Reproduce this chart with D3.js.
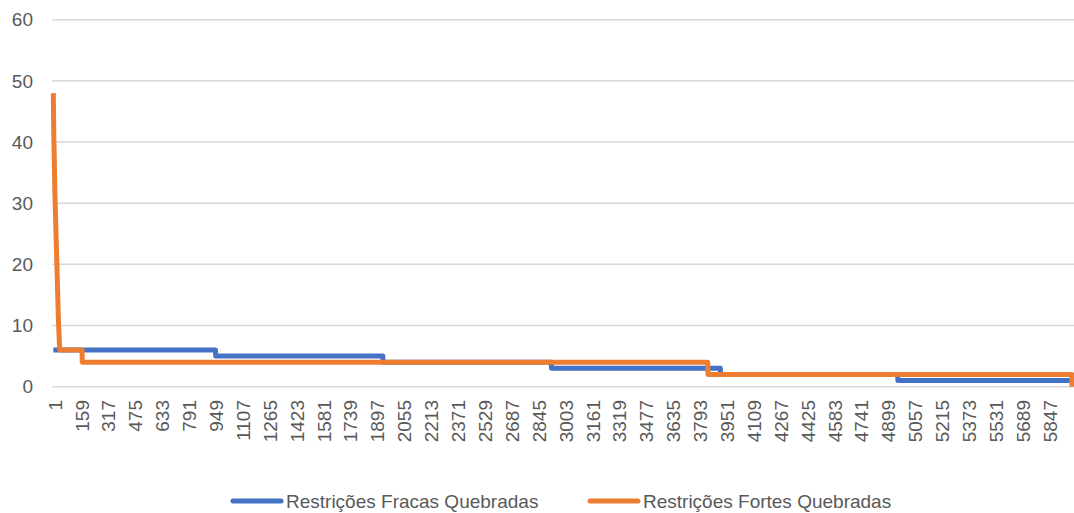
<!DOCTYPE html>
<html>
<head>
<meta charset="utf-8">
<script src="https://cdn.jsdelivr.net/npm/d3@7"></script>
<style>
  body { margin: 0; background: #fff; }
  svg text { font-family: "Liberation Sans", Arial, sans-serif; fill: #595959; }
</style>
</head>
<body>
<svg id="chart" width="1074" height="513"></svg>
<script>
// iteration index where the value changes, and the value there
var fracasIdx = [1, 954, 955, 1937, 1938, 2927, 2928, 3920, 3921, 4962, 4963, 5986];
var fracasVal = [6, 6, 5, 5, 4, 4, 3, 3, 2, 2, 1, 1];

var fortesIdx = [1, 4, 7, 10, 12, 14, 17, 19, 21, 24, 26, 28, 31, 34, 37, 40, 170, 171, 3846, 3847, 5985, 5986];
var fortesVal = [48, 41, 37, 32, 30, 28, 25, 23, 21, 18, 16, 14, 11, 9, 7, 6, 6, 4, 4, 2, 2, 0];

var seriesNames = ["Restrições Fracas Quebradas", "Restrições Fortes Quebradas"];
var seriesColors = ["#4472C4", "#ED7D31"];

var yTicks = [0, 10, 20, 30, 40, 50, 60];
var xTickLabels = [1, 159, 317, 475, 633, 791, 949, 1107, 1265, 1423, 1581, 1739, 1897,
  2055, 2213, 2371, 2529, 2687, 2845, 3003, 3161, 3319, 3477, 3635, 3793, 3951,
  4109, 4267, 4425, 4583, 4741, 4899, 5057, 5215, 5373, 5531, 5689, 5847];

function zip(a, b) {
  return a.map(function(d, i) { return [d, b[i]]; });
}

function render() {
  var svg = d3.select("#chart");

  var x = d3.scaleLinear().domain([1, 5986]).range([53.3, 1072]);
  var y = d3.scaleLinear().domain([0, 60]).range([386.7, 19.7]);

  // gridlines
  svg.append("g")
    .selectAll("line")
    .data(yTicks)
    .enter().append("line")
      .attr("x1", 52).attr("x2", 1074)
      .attr("y1", function(d) { return y(d); })
      .attr("y2", function(d) { return y(d); })
      .style("stroke", "#D9D9D9")
      .style("stroke-width", 1.5);

  // y labels
  svg.append("g")
    .selectAll("text")
    .data(yTicks)
    .enter().append("text")
      .attr("x", 33)
      .attr("y", function(d) { return y(d); })
      .attr("dy", "0.35em")
      .attr("text-anchor", "end")
      .style("font-size", "19px")
      .text(function(d) { return d; });

  // x labels, rotated
  svg.append("g")
    .selectAll("text")
    .data(xTickLabels)
    .enter().append("text")
      .attr("transform", function(d) { return "translate(" + (x(d) + 1.7) + ",400) rotate(-90)"; })
      .attr("dy", "0.35em")
      .attr("text-anchor", "end")
      .style("font-size", "19px")
      .text(function(d) { return d; });

  var line = d3.line()
      .x(function(d) { return x(d[0]); })
      .y(function(d) { return y(d[1]); });

  var data = [zip(fracasIdx, fracasVal), zip(fortesIdx, fortesVal)];

  svg.append("g")
    .selectAll("path")
    .data(data)
    .enter().append("path")
      .attr("d", line)
      .style("fill", "none")
      .style("stroke", function(d, i) { return seriesColors[i]; })
      .style("stroke-width", 5)
      .style("stroke-linejoin", "round");

  // legend
  var legendX = [233, 590];
  var lg = svg.append("g")
    .selectAll("g")
    .data(seriesNames)
    .enter().append("g")
      .attr("transform", function(d, i) { return "translate(" + legendX[i] + ",501)"; });

  lg.append("line")
      .attr("x1", 0).attr("x2", 48)
      .style("stroke", function(d, i) { return seriesColors[i]; })
      .style("stroke-width", 5)
      .style("stroke-linecap", "round");

  lg.append("text")
      .attr("x", 53)
      .attr("dy", "0.35em")
      .style("font-size", "19px")
      .text(function(d) { return d; });
}

render();
</script>
</body>
</html>
